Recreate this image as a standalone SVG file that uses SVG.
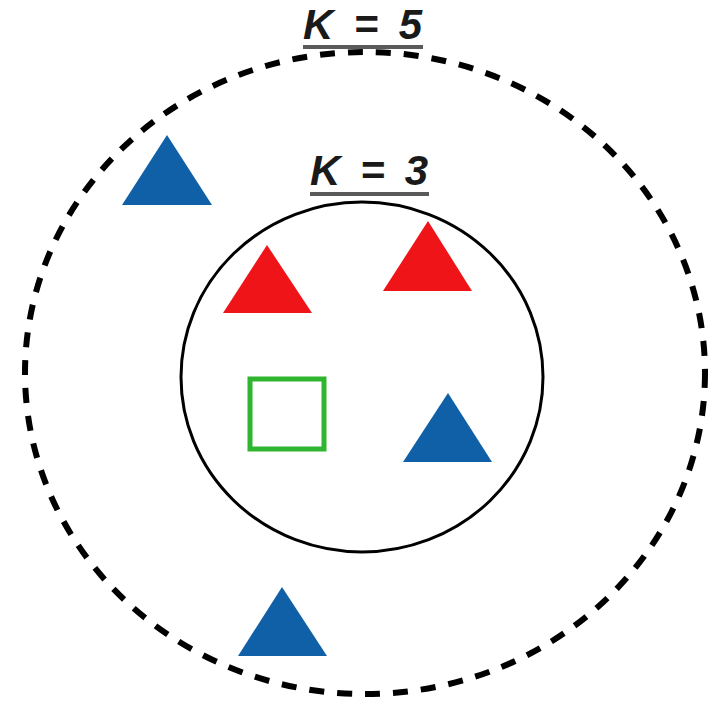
<svg xmlns="http://www.w3.org/2000/svg" width="719" height="704" viewBox="0 0 719 704">
<style>
.lbl{font-family:"Liberation Sans",Arial,sans-serif;font-weight:bold;font-style:italic;fill:#1a1a1a}
.ul{stroke:#5a5a5a;stroke-width:4}
.blue{fill:#1060a8}
.red{fill:#ee1418}
</style>
<rect width="719" height="704" fill="#ffffff"/>
<g id="connectors"></g>
<g id="k5">
<ellipse cx="365" cy="373" rx="340" ry="321" fill="none" stroke="#000" stroke-width="6" stroke-dasharray="15 13"/>
<text class="lbl" x="303" y="39" font-size="42" textLength="119" lengthAdjust="spacing">K = 5</text>
<line class="ul" x1="303" y1="47" x2="423" y2="47"/>
</g>
<g id="k3">
<ellipse cx="362" cy="377" rx="181" ry="175" fill="none" stroke="#000" stroke-width="3"/>
<text class="lbl" x="310" y="185" font-size="42" textLength="118" lengthAdjust="spacing">K = 3</text>
<line class="ul" x1="310" y1="194" x2="429" y2="194"/>
</g>
<g id="blue1"><polygon class="blue" points="167,135 212,205 122,205"/></g>
<g id="red1"><polygon class="red" points="267,245 312,313 223,313"/></g>
<g id="red2"><polygon class="red" points="428,221 472,291 383,291"/></g>
<g id="query"><rect x="250" y="379" width="74" height="70" fill="none" stroke="#2fb52f" stroke-width="5"/></g>
<g id="blue2"><polygon class="blue" points="448,393 492,462 403,462"/></g>
<g id="blue3"><polygon class="blue" points="282,587 327,656 238,656"/></g>
</svg>
